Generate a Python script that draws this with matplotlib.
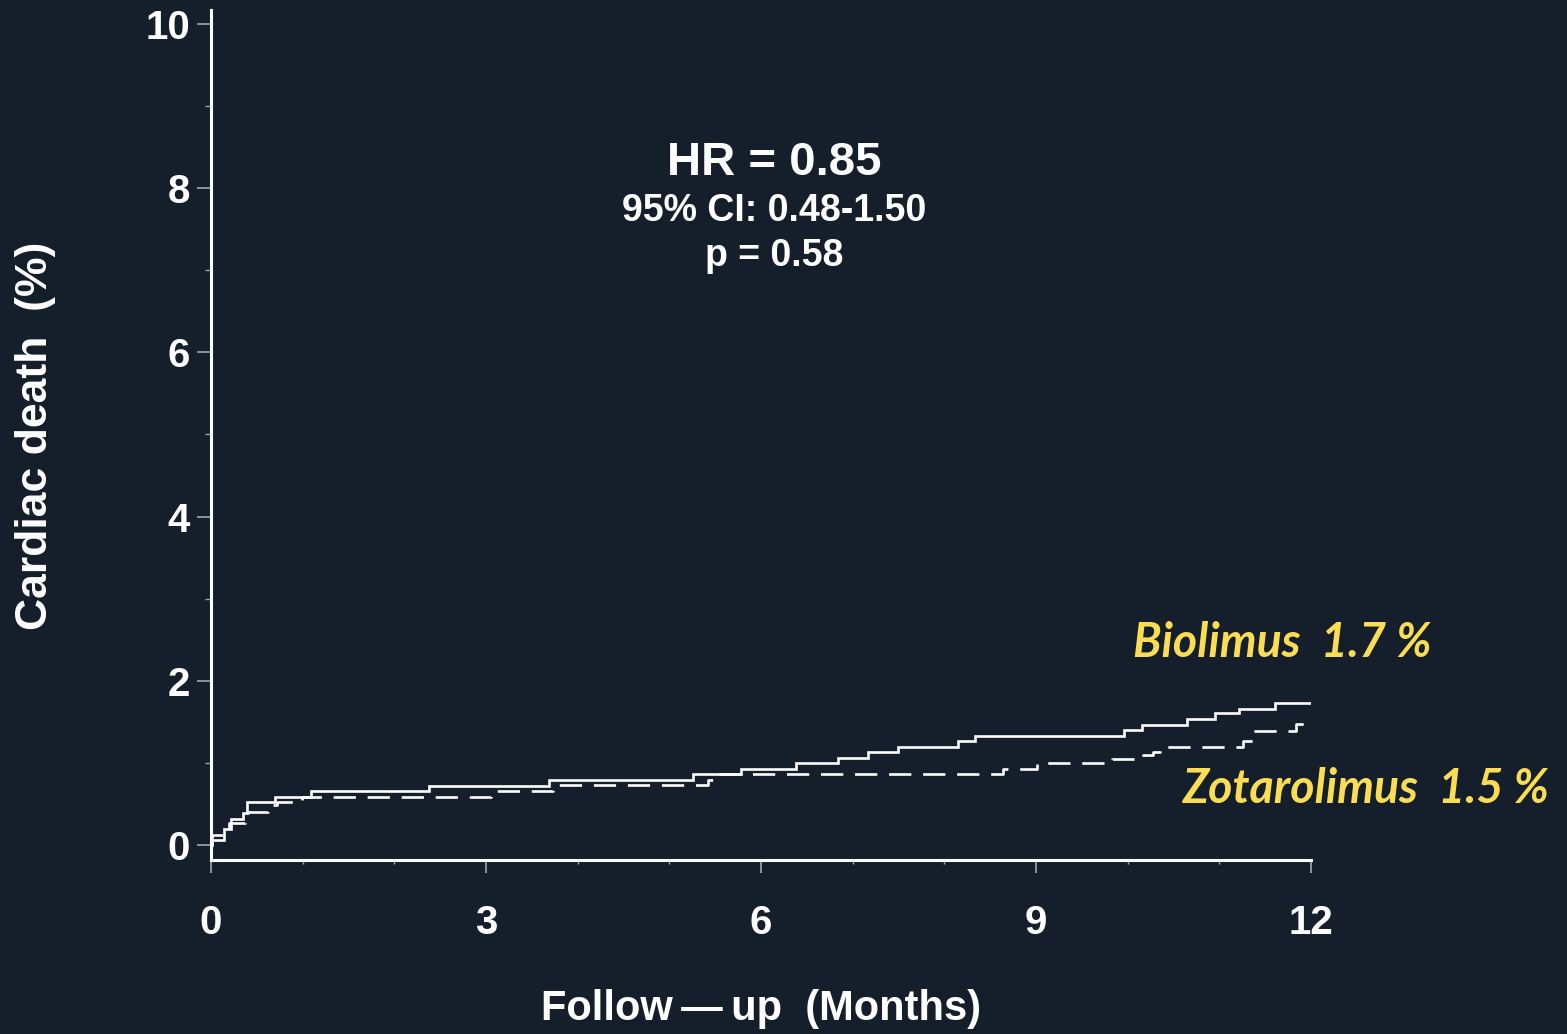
import matplotlib
matplotlib.use("Agg")
import matplotlib.pyplot as plt
from matplotlib.ticker import MultipleLocator

# ---- data ----
bio_t = [0, 0.01, 0.14, 0.22, 0.35, 0.39, 0.70, 1.09, 2.38, 3.69, 5.26, 5.78, 6.38, 6.84,
         7.17, 7.49, 8.15, 8.33, 9.96, 10.16, 10.65, 10.95, 11.21, 11.61, 12.0]
bio_v = [0, 0.06, 0.19, 0.32, 0.39, 0.52, 0.58, 0.66, 0.72, 0.79, 0.86, 0.93, 1.00, 1.06,
         1.13, 1.19, 1.27, 1.33, 1.40, 1.46, 1.53, 1.61, 1.66, 1.73, 1.73]
zot_t = [0, 0.01, 0.20, 0.37, 0.40, 0.62, 0.72, 0.99, 3.05, 3.73, 5.42, 5.50, 8.64, 9.01,
         9.83, 10.17, 10.28, 10.35, 11.26, 11.37, 11.84, 12.0]
zot_v = [0, 0.12, 0.27, 0.32, 0.40, 0.49, 0.52, 0.58, 0.66, 0.73, 0.79, 0.86, 0.93, 1.00,
         1.05, 1.10, 1.13, 1.19, 1.27, 1.39, 1.47, 1.47]
x_ticks = [0, 3, 6, 9, 12]
y_ticks = [0, 2, 4, 6, 8, 10]
stats_lines = ["HR = 0.85", "95% CI: 0.48-1.50", "p = 0.58"]
label_bio = "Biolimus  1.7 %"
label_zot = "Zotarolimus  1.5 %"

BG = "#151f2c"
YEL = "#fadc55"
GREY = "#a3a7ad"
W, H = 1567, 1034

plt.rcParams["lines.scale_dashes"] = False
fig = plt.figure(figsize=(W / 100, H / 100), dpi=100, facecolor=BG)

def fx(px):
    return px / W

def fy(py):
    return 1 - py / H

ax = fig.add_axes([fx(211), fy(860), fx(1311) - fx(211), fy(10) - fy(860)])
ax.set_facecolor(BG)
ax.set_xlim(0, 12)
ax.set_ylim(-0.183, 10.17)

ax.step(bio_t, bio_v, where="post", color="white", lw=1.9, solid_joinstyle="miter")
ax.step(zot_t, zot_v, where="post", color="white", lw=1.9, dashes=(16, 8.5))

for s in ["top", "right"]:
    ax.spines[s].set_visible(False)
for s in ["left", "bottom"]:
    ax.spines[s].set_color("white")
    ax.spines[s].set_linewidth(2.2)

tickfont = dict(family="Liberation Sans", weight="bold", size=29)
ax.set_xticks(x_ticks)
ax.set_xticklabels([str(v) for v in x_ticks], color="white", **tickfont)
ax.set_yticks(y_ticks)
ax.set_yticklabels([str(v) for v in y_ticks], color="white", **tickfont)
ax.xaxis.set_minor_locator(MultipleLocator(1))
ax.yaxis.set_minor_locator(MultipleLocator(1))
ax.tick_params(axis="x", which="major", direction="out", length=9.5, width=1.2,
               color=GREY, pad=22)
ax.tick_params(axis="x", which="minor", direction="out", length=3, width=1.0, color=GREY)
ax.tick_params(axis="y", which="major", direction="out", length=10, width=1.2,
               color=GREY, pad=5)
ax.tick_params(axis="y", which="minor", direction="out", length=4, width=1.0, color=GREY)

fig.text(fx(36), fy(436), "Cardiac death  (%)", rotation=90, ha="center", va="center",
         color="white", family="Liberation Sans", weight="bold", size=32)
fig.text(fx(761), fy(1020), "Follow\u2009\u2014\u2009up  (Months)", ha="center", va="baseline",
         color="white", family="Liberation Sans", weight="bold", size=30)

fig.text(fx(774), fy(175), stats_lines[0], ha="center", va="baseline", color="white",
         family="Liberation Sans", weight="bold", size=34)
fig.text(fx(774), fy(221), stats_lines[1], ha="center", va="baseline", color="white",
         family="Liberation Sans", weight="bold", size=27)
fig.text(fx(774), fy(266), stats_lines[2], ha="center", va="baseline", color="white",
         family="Liberation Sans", weight="bold", size=27)

fig.text(fx(1133), fy(657), label_bio, ha="left", va="baseline", color=YEL,
         family="Lato", weight="bold", style="italic", size=33.5)
fig.text(fx(1183), fy(803), label_zot, ha="left", va="baseline", color=YEL,
         family="Lato", weight="bold", style="italic", size=33.5)

fig.savefig("out.png", dpi=100, facecolor=BG)
